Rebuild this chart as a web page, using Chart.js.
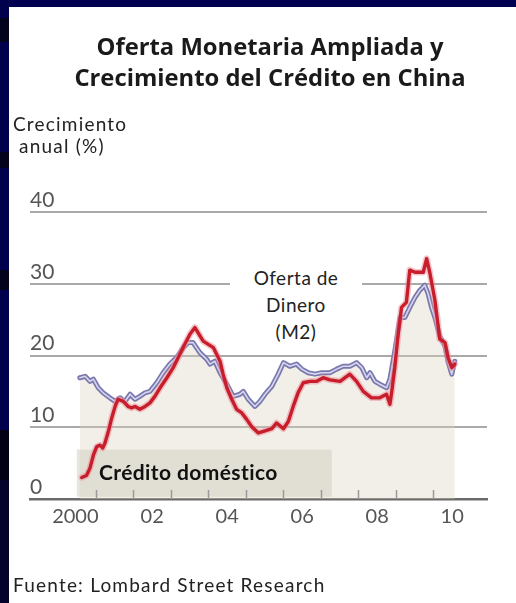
<!DOCTYPE html>
<html>
<head>
<meta charset="utf-8">
<script src="https://cdn.jsdelivr.net/npm/chart.js@4.4.1/dist/chart.umd.min.js"></script>
<style>
  html, body { margin: 0; padding: 0; background: #fff; }
  body { width: 516px; height: 603px; position: relative; overflow: hidden;
         font-family: Lato, "Open Sans", sans-serif; color: #1e1e1e; }
  #frameTop { position: absolute; left: 0; top: 0; width: 516px; height: 7px; background: #000050; }
  #frameLeft { position: absolute; left: 0; top: 0; width: 9px; height: 603px;
    background: linear-gradient(to bottom,
      #00004c 0px, #00004c 18px, #03031c 18px, #03031c 42px,
      #00004c 42px, #00004c 152px, #03031c 152px, #03031c 168px,
      #00004c 168px, #00004c 270px, #03031c 270px, #03031c 290px,
      #00004c 290px, #00004c 430px, #020214 430px, #020214 480px,
      #02022a 480px, #02022a 603px); }
  canvas { position: absolute; left: 0; top: 0; }
  .txt { position: absolute; white-space: nowrap; }
  #title { left: 17px; width: 506px; top: 30.5px; text-align: center; font-weight: 700;
           font-family: "Open Sans", Lato, sans-serif;
           font-size: 23.8px; line-height: 31px; color: #1a1a1a; }
  #unit { left: 13px; top: 112.5px; font-size: 19px; line-height: 22px; letter-spacing: 1.2px; color: #222; }
  #m2label { left: 230px; width: 132px; top: 264px; text-align: center; font-size: 19px;
             line-height: 27px; background: #fff; color: #222; letter-spacing: 0.5px; }
  #creditlabel { left: 99px; top: 460px; font-size: 21px; font-weight: 700; line-height: 24px;
                 letter-spacing: 0.4px; color: #111; }
  #source { left: 13px; top: 573.5px; font-size: 19px; line-height: 22px; color: #222; letter-spacing: 1.2px; }
</style>
</head>
<body>
<canvas id="chart" width="516" height="603"></canvas>
<div id="frameTop"></div>
<div id="frameLeft"></div>
<div class="txt" id="title">Oferta Monetaria Ampliada y<br>Crecimiento del Crédito en China</div>
<div class="txt" id="unit">Crecimiento<br>&nbsp;anual (%)</div>
<div class="txt" id="m2label">Oferta de<br>Dinero<br>(M2)</div>
<div class="txt" id="creditlabel">Crédito doméstico</div>
<div class="txt" id="source">Fuente: Lombard Street Research</div>
<script>
// Domestic credit growth, % year on year (decimal year, value)
const creditYears = [2000.62, 2000.75, 2000.84, 2000.93, 2001.02, 2001.11, 2001.18, 2001.24, 2001.33, 2001.42,
  2001.51, 2001.59, 2001.73, 2001.86, 2001.95, 2002.04, 2002.17, 2002.31, 2002.44, 2002.57,
  2002.71, 2002.89, 2003.06, 2003.24, 2003.37, 2003.51, 2003.64, 2003.86, 2004.13, 2004.31,
  2004.39, 2004.49, 2004.62, 2004.75, 2004.89, 2005.02, 2005.15, 2005.33, 2005.51, 2005.69,
  2005.82, 2006.00, 2006.13, 2006.26, 2006.39, 2006.53, 2006.71, 2006.89, 2007.06, 2007.24,
  2007.51, 2007.77, 2007.95, 2008.13, 2008.35, 2008.57, 2008.75, 2008.84, 2008.89, 2008.97,
  2009.06, 2009.15, 2009.28, 2009.37, 2009.51, 2009.64, 2009.73, 2009.82, 2009.91, 2010.04,
  2010.17, 2010.31, 2010.39, 2010.49, 2010.57];
const creditValues = [3.0, 3.3, 4.3, 6.1, 7.3, 7.5, 7.1, 7.8, 9.4, 11.3,
  12.9, 13.9, 13.6, 12.9, 12.7, 12.9, 12.5, 12.9, 13.4, 14.3,
  15.5, 16.9, 18.3, 20.2, 21.6, 23.0, 23.9, 22.0, 21.1, 19.2,
  17.4, 15.5, 13.9, 12.5, 12.0, 11.1, 10.1, 9.2, 9.5, 9.8,
  10.6, 9.8, 10.8, 12.9, 14.8, 16.2, 16.4, 16.4, 16.9, 16.6,
  16.4, 17.4, 16.4, 15.0, 14.1, 14.1, 14.6, 13.2, 15.0, 18.3,
  23.0, 26.7, 27.4, 31.9, 31.6, 31.6, 31.6, 33.5, 31.4, 27.7,
  22.3, 21.8, 19.7, 18.3, 18.8];

// Broad money (M2) growth, % year on year
const m2Years = [2000.57, 2000.71, 2000.84, 2000.93, 2001.06, 2001.19, 2001.37, 2001.51, 2001.64, 2001.77,
  2001.91, 2002.04, 2002.17, 2002.31, 2002.44, 2002.62, 2002.79, 2002.97, 2003.15, 2003.33,
  2003.46, 2003.59, 2003.77, 2003.95, 2004.04, 2004.17, 2004.31, 2004.49, 2004.66, 2004.84,
  2004.93, 2005.06, 2005.24, 2005.37, 2005.51, 2005.69, 2005.86, 2006.00, 2006.17, 2006.35,
  2006.49, 2006.66, 2006.84, 2007.02, 2007.24, 2007.42, 2007.59, 2007.77, 2007.95, 2008.09,
  2008.22, 2008.31, 2008.44, 2008.57, 2008.75, 2008.84, 2008.97, 2009.11, 2009.24, 2009.37,
  2009.51, 2009.64, 2009.77, 2009.86, 2009.95, 2010.04, 2010.17, 2010.31, 2010.39, 2010.49,
  2010.57];
const m2Values = [16.9, 17.1, 16.4, 16.7, 15.5, 14.8, 14.1, 13.6, 14.1, 13.6,
  14.6, 13.9, 14.3, 14.8, 15.0, 16.2, 17.6, 18.8, 19.7, 21.1,
  21.8, 21.8, 20.4, 19.5, 18.8, 19.2, 17.6, 16.0, 14.3, 14.6,
  15.0, 13.9, 12.9, 13.6, 14.6, 15.7, 17.4, 19.0, 18.5, 18.8,
  18.1, 17.6, 17.4, 17.6, 17.6, 18.1, 18.5, 18.5, 19.0, 18.3,
  16.9, 17.6, 16.4, 16.0, 15.5, 16.7, 20.6, 25.3, 25.3, 26.7,
  28.1, 29.1, 29.8, 28.6, 26.7, 25.3, 22.7, 21.3, 19.2, 17.4,
  19.2];

// Axis labels: each label sits in the middle of its year
const labelYears = [2000.45, 2002.5, 2004.5, 2006.5, 2008.5, 2010.5];
const labelTexts = ['2000', '02', '04', '06', '08', '10'];
// Small tick marks at the start of each year
const yearMarks = [2001, 2002, 2003, 2004, 2005, 2006, 2007, 2008, 2009, 2010];
const yTicks = [0, 10, 20, 30, 40];

const toPoints = (xs, ys) => xs.map((x, i) => ({ x: x, y: ys[i] }));
const creditPts = toPoints(creditYears, creditValues);
const m2Pts = toPoints(m2Years, m2Values);

// Shaded panel behind the "Crédito doméstico" caption, in data units
const captionPanel = { x0: 2000.49, x1: 2007.29, y0: 0.3, y1: 6.9 };

const panelPlugin = {
  id: 'captionPanel',
  beforeDatasetsDraw(chart) {
    const { ctx, scales: { x, y } } = chart;
    const l = x.getPixelForValue(captionPanel.x0), r = x.getPixelForValue(captionPanel.x1);
    const t = y.getPixelForValue(captionPanel.y1), b = y.getPixelForValue(captionPanel.y0);
    ctx.save();
    ctx.fillStyle = '#e6e6e1';
    ctx.fillRect(l, t, r - l, b - t);
    ctx.restore();
  }
};

const yearMarkPlugin = {
  id: 'yearMarks',
  afterDatasetsDraw(chart) {
    const { ctx, chartArea, scales: { x } } = chart;
    ctx.save();
    ctx.strokeStyle = '#9a9a9a';
    ctx.lineWidth = 1.5;
    yearMarks.forEach(v => {
      const px = Math.round(x.getPixelForValue(v)) + 0.5;
      ctx.beginPath();
      ctx.moveTo(px, chartArea.bottom);
      ctx.lineTo(px, chartArea.bottom - 9);
      ctx.stroke();
    });
    ctx.restore();
  }
};

new Chart(document.getElementById('chart'), {
  type: 'line',
  data: {
    datasets: [
      { label: 'Crédito doméstico', data: creditPts, borderColor: '#c81e2c', borderWidth: 3.4, order: 0 },
      { label: 'Crédito halo', data: creditPts, borderColor: 'rgba(235,150,160,0.55)', borderWidth: 6.5, order: 1 },
      { label: 'M2 centre', data: m2Pts, borderColor: '#d6d6f0', borderWidth: 1.6, order: 2 },
      { label: 'Oferta de Dinero (M2)', data: m2Pts, borderColor: '#7a78ad', borderWidth: 5, order: 3 },
      { label: 'M2 area', data: m2Pts, borderWidth: 0, borderColor: 'rgba(0,0,0,0)',
        backgroundColor: 'rgba(218,214,192,0.38)', fill: 'origin', order: 4 }
    ]
  },
  options: {
    responsive: false,
    animation: false,
    layout: { padding: { left: 30, right: 29, top: 212, bottom: 68 } },
    elements: { point: { radius: 0 }, line: { tension: 0, borderJoinStyle: 'round', borderCapStyle: 'round' } },
    plugins: { legend: { display: false }, tooltip: { enabled: false } },
    scales: {
      x: {
        type: 'linear',
        min: 1999.24,
        max: 2011.43,
        afterBuildTicks: (axis) => { axis.ticks = labelYears.map(v => ({ value: v })); },
        ticks: {
          autoSkip: false,
          maxRotation: 0,
          padding: 6,
          color: '#555',
          font: { family: 'Lato', size: 20 },
          callback: (v) => labelTexts[labelYears.indexOf(v)]
        },
        grid: { display: false, drawTicks: false },
        border: { display: true, color: '#6a6a6a', width: 2.5 }
      },
      y: {
        min: 0,
        max: 40,
        afterBuildTicks: (axis) => { axis.ticks = yTicks.map(v => ({ value: v })); },
        ticks: {
          mirror: true,
          padding: 0,
          labelOffset: -12,
          color: '#555',
          font: { family: 'Lato', size: 21 }
        },
        grid: {
          drawTicks: false,
          color: (c) => c.tick && c.tick.value === 0 ? 'rgba(0,0,0,0)' : '#a9a9a9',
          lineWidth: 2
        },
        border: { display: false }
      }
    }
  },
  plugins: [panelPlugin, yearMarkPlugin]
});
</script>
</body>
</html>
